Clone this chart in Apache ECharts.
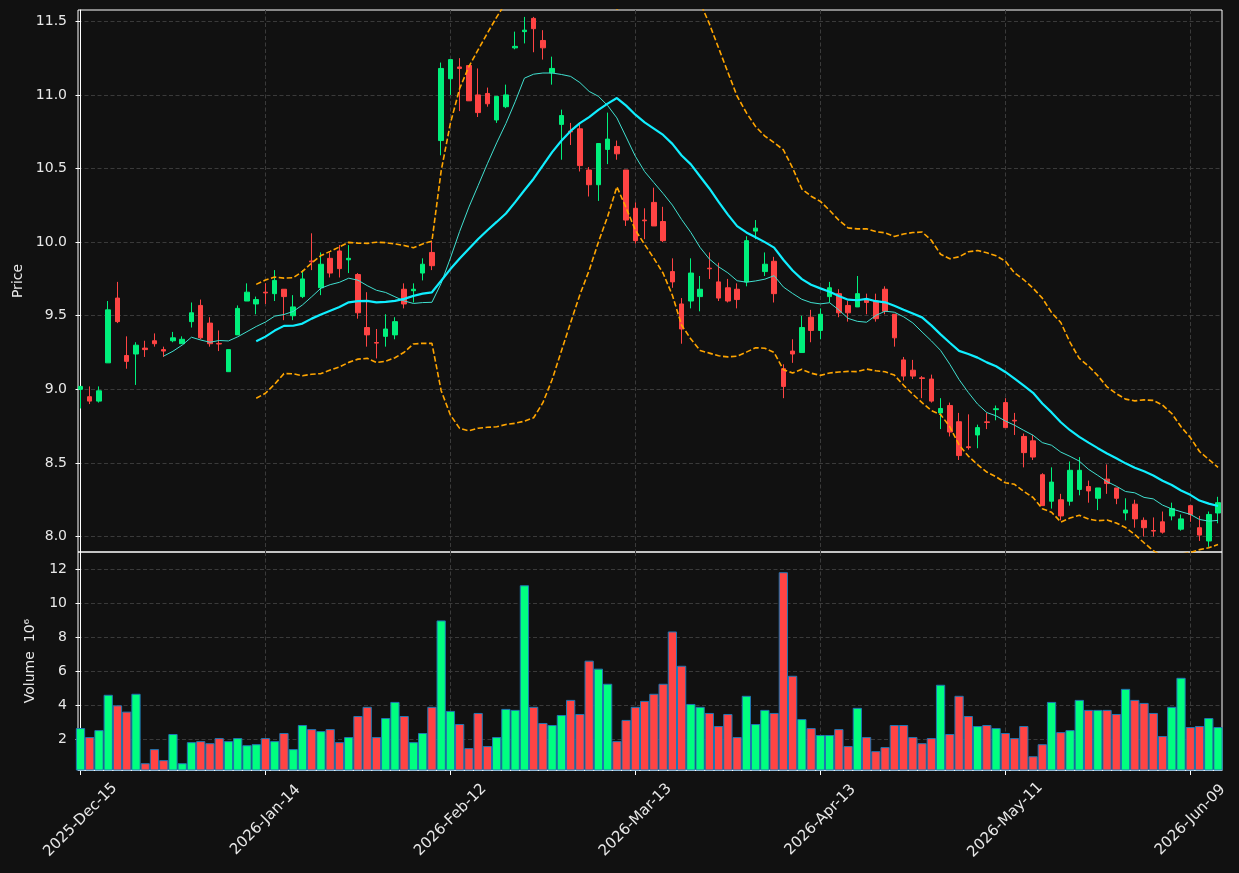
<!DOCTYPE html>
<html>
<head>
<meta charset="utf-8">
<script src="https://cdn.jsdelivr.net/npm/echarts@6/dist/echarts.min.js"></script>
<style>
  html, body { margin: 0; padding: 0; background: #111111; }
  #chart { width: 1239px; height: 873px; }
</style>
</head>
<body>
<div id="chart"></div>
<script>
// daily bars, index 0 = 2025-Dec-15 (trading days only)
var opens = [
  9.00, 8.95, 8.92, 9.18, 9.62, 9.23, 9.24, 9.28, 9.33, 9.27,
  9.33, 9.31, 9.46, 9.57, 9.45, 9.312, 9.12, 9.37, 9.60, 9.58,
  9.66, 9.65, 9.68, 9.50, 9.63, 9.872, 9.69, 9.89, 9.94, 9.88,
  9.78, 9.42, 9.318, 9.36, 9.37, 9.68, 9.67, 9.79, 9.93, 10.69,
  11.11, 11.19, 11.20, 11.00, 11.01, 10.83, 10.92, 11.32, 11.43, 11.52,
  11.37, 11.15, 10.80, 10.754, 10.77, 10.49, 10.39, 10.63, 10.65, 10.49,
  10.23, 10.15, 10.27, 10.14, 9.80, 9.58, 9.60, 9.63, 9.823, 9.73,
  9.69, 9.68, 9.73, 10.075, 9.80, 9.87, 9.14, 9.26, 9.25, 9.49,
  9.40, 9.63, 9.65, 9.57, 9.56, 9.61, 9.60, 9.68, 9.51, 9.20,
  9.13, 9.078, 9.07, 8.84, 8.89, 8.78, 8.61, 8.69, 8.779, 8.862,
  8.91, 8.79, 8.68, 8.65, 8.42, 8.24, 8.25, 8.24, 8.32, 8.34,
  8.26, 8.39, 8.33, 8.16, 8.22, 8.11, 8.041, 8.10, 8.14, 8.05,
  8.21, 8.06, 7.97, 8.16
];
var highs = [
  9.02, 9.02, 9.02, 9.60, 9.73, 9.36, 9.32, 9.33, 9.38, 9.29,
  9.39, 9.36, 9.59, 9.61, 9.49, 9.40, 9.27, 9.57, 9.72, 9.63,
  9.72, 9.81, 9.68, 9.64, 9.81, 10.06, 9.93, 9.93, 9.98, 9.98,
  9.79, 9.66, 9.41, 9.51, 9.49, 9.72, 9.72, 9.89, 10.01, 11.22,
  11.24, 11.25, 11.20, 11.18, 11.05, 10.99, 11.07, 11.43, 11.53, 11.53,
  11.44, 11.26, 10.90, 10.81, 10.81, 10.51, 10.67, 10.88, 10.69, 10.49,
  10.27, 10.23, 10.37, 10.24, 9.89, 9.62, 9.89, 9.77, 9.93, 9.86,
  9.75, 9.72, 10.04, 10.15, 9.93, 9.90, 9.17, 9.34, 9.50, 9.54,
  9.55, 9.73, 9.68, 9.60, 9.77, 9.65, 9.65, 9.70, 9.51, 9.22,
  9.20, 9.09, 9.10, 8.94, 8.91, 8.84, 8.83, 8.76, 8.84, 8.89,
  8.94, 8.84, 8.70, 8.69, 8.43, 8.47, 8.29, 8.51, 8.54, 8.38,
  8.33, 8.49, 8.33, 8.26, 8.25, 8.13, 8.13, 8.17, 8.23, 8.15,
  8.21, 8.14, 8.17, 8.27
];
var lows = [
  8.87, 8.90, 8.91, 9.18, 9.45, 9.14, 9.03, 9.22, 9.29, 9.22,
  9.32, 9.31, 9.42, 9.34, 9.29, 9.26, 9.12, 9.37, 9.60, 9.51,
  9.58, 9.60, 9.47, 9.47, 9.62, 9.81, 9.64, 9.76, 9.76, 9.79,
  9.48, 9.29, 9.21, 9.29, 9.34, 9.55, 9.59, 9.74, 9.81, 10.59,
  11.00, 10.89, 10.96, 10.85, 10.92, 10.81, 10.91, 11.31, 11.35, 11.29,
  11.24, 11.07, 10.56, 10.66, 10.48, 10.31, 10.28, 10.53, 10.56, 10.11,
  9.99, 10.02, 10.11, 10.00, 9.69, 9.31, 9.55, 9.53, 9.75, 9.60,
  9.59, 9.55, 9.70, 10.02, 9.77, 9.59, 8.94, 9.18, 9.25, 9.32,
  9.34, 9.59, 9.49, 9.46, 9.56, 9.51, 9.46, 9.51, 9.29, 9.06,
  9.07, 8.94, 8.91, 8.73, 8.68, 8.52, 8.59, 8.60, 8.73, 8.79,
  8.74, 8.69, 8.47, 8.52, 8.21, 8.19, 8.11, 8.21, 8.28, 8.23,
  8.18, 8.29, 8.22, 8.11, 8.06, 8.00, 8.00, 8.02, 8.11, 8.04,
  8.10, 7.97, 7.93, 8.09
];
var closes = [
  9.02, 8.92, 8.99, 9.54, 9.46, 9.19, 9.30, 9.27, 9.31, 9.26,
  9.35, 9.34, 9.52, 9.35, 9.31, 9.308, 9.27, 9.55, 9.66, 9.61,
  9.655, 9.74, 9.63, 9.56, 9.75, 9.866, 9.85, 9.79, 9.82, 9.89,
  9.52, 9.37, 9.314, 9.41, 9.46, 9.58, 9.68, 9.85, 9.84, 11.18,
  11.24, 11.18, 10.96, 10.88, 10.94, 10.99, 11.00, 11.33, 11.44, 11.45,
  11.32, 11.18, 10.86, 10.749, 10.52, 10.39, 10.67, 10.70, 10.60, 10.15,
  10.01, 10.145, 10.11, 10.01, 9.73, 9.41, 9.79, 9.68, 9.819, 9.62,
  9.60, 9.61, 10.01, 10.095, 9.85, 9.65, 9.02, 9.24, 9.42, 9.40,
  9.51, 9.69, 9.52, 9.52, 9.65, 9.59, 9.48, 9.53, 9.35, 9.09,
  9.09, 9.074, 8.92, 8.87, 8.71, 8.55, 8.604, 8.74, 8.775, 8.868,
  8.74, 8.785, 8.57, 8.54, 8.21, 8.37, 8.14, 8.45, 8.45, 8.31,
  8.33, 8.36, 8.26, 8.18, 8.12, 8.06, 8.037, 8.03, 8.19, 8.12,
  8.15, 8.01, 8.15, 8.23
];
// volume in millions
var volumes = [
  2.65, 2.12, 2.53, 4.61, 3.99, 3.62, 4.67, 0.58, 1.41, 0.76,
  2.30, 0.58, 1.82, 1.88, 1.76, 2.06, 1.88, 2.06, 1.64, 1.70,
  2.06, 1.88, 2.36, 1.41, 2.83, 2.59, 2.47, 2.59, 1.82, 2.12,
  3.36, 3.90, 2.12, 3.24, 4.19, 3.36, 1.82, 2.36, 3.90, 8.99,
  3.66, 2.89, 1.47, 3.54, 1.59, 2.12, 3.78, 3.72, 11.06, 3.90,
  2.95, 2.83, 3.42, 4.31, 3.48, 6.62, 6.15, 5.26, 1.88, 3.13,
  3.90, 4.25, 4.67, 5.26, 8.34, 6.32, 4.07, 3.90, 3.54, 2.77,
  3.48, 2.12, 4.55, 2.89, 3.72, 3.54, 11.83, 5.73, 3.18, 2.65,
  2.24, 2.24, 2.59, 1.59, 3.84, 2.12, 1.29, 1.53, 2.83, 2.83,
  2.12, 1.76, 2.06, 5.20, 2.30, 4.55, 3.36, 2.77, 2.83, 2.65,
  2.36, 2.06, 2.77, 0.99, 1.70, 4.19, 2.41, 2.53, 4.31, 3.72,
  3.72, 3.72, 3.48, 4.96, 4.31, 4.13, 3.54, 2.18, 3.90, 5.61,
  2.71, 2.77, 3.24, 2.71
];
var tickIndex = [0, 20, 40, 60, 80, 100, 120];
var tickLabels = ['2025-Dec-15', '2026-Jan-14', '2026-Feb-12', '2026-Mar-13', '2026-Apr-13', '2026-May-11', '2026-Jun-09'];
var priceTicks = [8.0, 8.5, 9.0, 9.5, 10.0, 10.5, 11.0, 11.5];
var volumeTicks = [2, 4, 6, 8, 10, 12];

var UP = '#00f07c', DOWN = '#ff4444';
var VUP = '#00ff80', VDOWN = '#ff4444';
var TXT = '#e8e8e8';
var FONT = 'DejaVu Sans';

// rolling mean / band of the closes
function rolling (n, k) {
  var out = []
  for (var i = 0; i < closes.length; i++) {
    if (i < n - 1) { out.push([i, null]); continue }
    var s = 0
    for (var j = i - n + 1; j <= i; j++) s += closes[j]
    var m = s / n
    if (!k) { out.push([i, m]); continue }
    var v = 0
    for (j = i - n + 1; j <= i; j++) v += (closes[j] - m) * (closes[j] - m)
    out.push([i, m + k * Math.sqrt(v / n)])
  }
  return out
}

var candles = closes.map(function (c, i) { return [i, opens[i], c, lows[i], highs[i]] })
var vols = volumes.map(function (v, i) {
  return { value: [i, v], itemStyle: { color: closes[i] >= opens[i] ? VUP : VDOWN } }
})

var gridLine = { show: true, lineStyle: { color: '#3a3a3a', width: 1, type: [4, 2.5] } }
var xmin = -0.27, xmax = 123.43

var chart = echarts.init(document.getElementById('chart'))
chart.setOption({
  backgroundColor: '#111111',
  animation: false,
  textStyle: { fontFamily: FONT },
  grid: [
    { left: 78, right: 17, top: 10, height: 542, show: true, borderColor: '#ffffff', borderWidth: 1 },
    { left: 78, right: 17, top: 552, height: 218, show: true, borderColor: '#ffffff', borderWidth: 1 }
  ],
  xAxis: [
    {
      type: 'value', gridIndex: 0, min: xmin, max: xmax,
      axisLine: { show: false },
      axisTick: { show: false, customValues: tickIndex },
      axisLabel: { show: false, customValues: tickIndex },
      splitLine: gridLine
    },
    {
      type: 'value', gridIndex: 1, min: xmin, max: xmax,
      axisLine: { show: true, lineStyle: { color: '#ffffff' } },
      axisTick: { show: true, length: 5, customValues: tickIndex, lineStyle: { color: '#ffffff' } },
      axisLabel: {
        customValues: tickIndex, rotate: 45, margin: 50, align: 'center', verticalAlign: 'middle',
        color: TXT, fontSize: 15, fontFamily: FONT,
        formatter: function (v) { return tickLabels[tickIndex.indexOf(Math.round(v))] || '' }
      },
      splitLine: gridLine
    }
  ],
  yAxis: [
    {
      type: 'value', gridIndex: 0, min: 7.895, max: 11.577,
      name: 'Price', nameLocation: 'middle', nameGap: 53,
      nameTextStyle: { color: TXT, fontSize: 14, fontFamily: FONT },
      axisLine: { show: true, lineStyle: { color: '#ffffff' } },
      axisTick: { show: true, length: 5, customValues: priceTicks, lineStyle: { color: '#ffffff' } },
      axisLabel: {
        customValues: priceTicks, color: TXT, fontSize: 14, fontFamily: FONT, margin: 11,
        formatter: function (v) { return v.toFixed(1) }
      },
      splitLine: gridLine
    },
    {
      type: 'value', gridIndex: 1, min: 0.18, max: 13.02,
      name: 'Volume  10\u2076', nameLocation: 'middle', nameGap: 41,
      nameTextStyle: { color: TXT, fontSize: 14, fontFamily: FONT },
      axisLine: { show: true, lineStyle: { color: '#ffffff' } },
      axisTick: { show: true, length: 5, customValues: volumeTicks, lineStyle: { color: '#ffffff' } },
      axisLabel: { customValues: volumeTicks, color: TXT, fontSize: 14, fontFamily: FONT, margin: 11 },
      splitLine: gridLine
    }
  ],
  series: [
    {
      type: 'candlestick', xAxisIndex: 0, yAxisIndex: 0,
      data: candles, encode: { x: 0, y: [1, 2, 3, 4] },
      barWidth: 5,
      itemStyle: { color: UP, color0: DOWN, borderColor: UP, borderColor0: DOWN, borderWidth: 1 }
    },
    {
      name: 'MA10', type: 'line', xAxisIndex: 0, yAxisIndex: 0, data: rolling(10),
      showSymbol: false, lineStyle: { color: '#40e0d0', width: 1 }, z: 3
    },
    {
      name: 'MA20', type: 'line', xAxisIndex: 0, yAxisIndex: 0, data: rolling(20),
      showSymbol: false, lineStyle: { color: '#10eeff', width: 2.2 }, z: 3
    },
    {
      name: 'Upper', type: 'line', xAxisIndex: 0, yAxisIndex: 0, data: rolling(20, 2),
      showSymbol: false, lineStyle: { color: '#ffa500', width: 1.6, type: [5.5, 2.5] }, z: 3
    },
    {
      name: 'Lower', type: 'line', xAxisIndex: 0, yAxisIndex: 0, data: rolling(20, -2),
      showSymbol: false, lineStyle: { color: '#ffa500', width: 1.6, type: [5.5, 2.5] }, z: 3
    },
    {
      name: 'Volume', type: 'bar', xAxisIndex: 1, yAxisIndex: 1, data: vols,
      barWidth: 9.25, clip: true,
      itemStyle: { borderColor: '#1f77b4', borderWidth: 1 }
    }
  ]
})
</script>
</body>
</html>
